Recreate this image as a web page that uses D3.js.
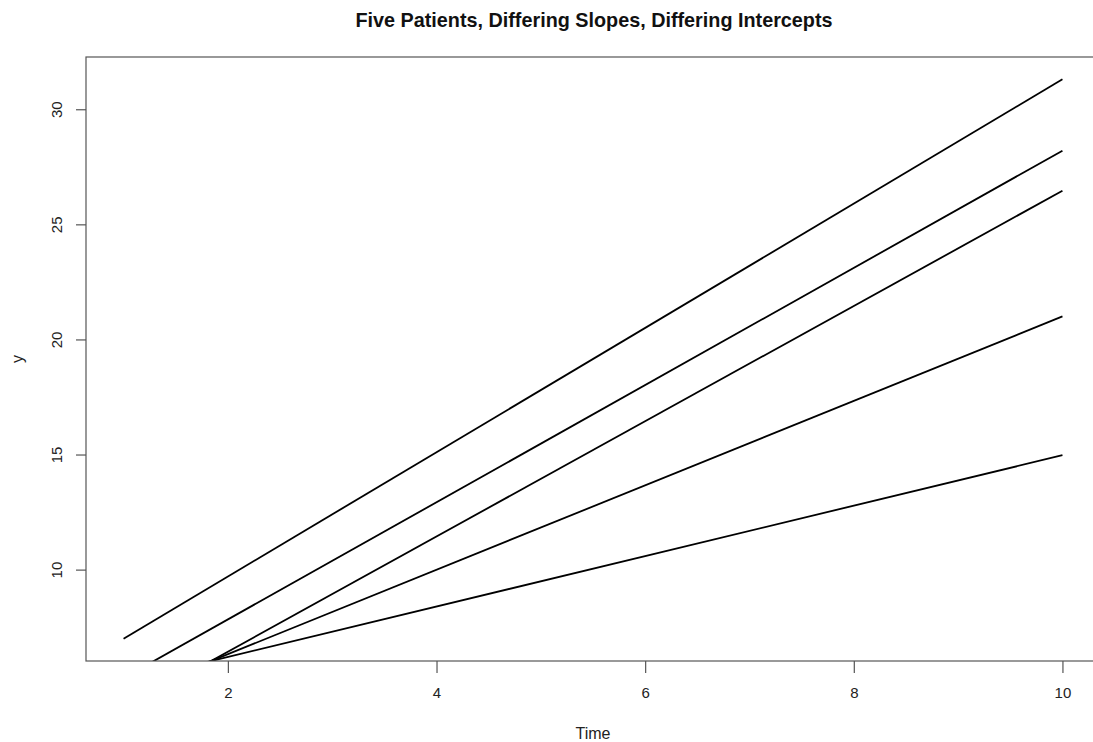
<!DOCTYPE html>
<html>
<head>
<meta charset="utf-8">
<script src="https://cdn.jsdelivr.net/npm/d3@7"></script>
<style>
  body { margin: 0; background: #fff; }
  svg { display: block; font-family: "Liberation Sans", Arial, sans-serif; }
</style>
</head>
<body>
<svg id="chart" width="1093" height="742"></svg>
<script>
// values: each patient's line at time 1 and time 10
var patients   = ["P1", "P2", "P3", "P4", "P5"];
var timePoints = [1, 10];
var yAtStart   = [7.0, 5.29, 3.93, 4.49, 5.11];
var yAtEnd     = [31.3, 28.2, 26.46, 21.0, 14.97];
var xTicks     = [2, 4, 6, 8, 10];
var yTicks     = [10, 15, 20, 25, 30];

var svg = d3.select("#chart"),
    width = +svg.attr("width"),
    height = +svg.attr("height");

// plot box (right side runs off the canvas like the original)
var boxLeft = 86, boxRight = 1100, boxTop = 57, boxBottom = 661;

var x = d3.scaleLinear().domain([0.64, 10.36]).range([boxLeft, boxRight]);
var y = d3.scaleLinear().domain([6.03, 32.27]).range([boxBottom, boxTop]);

svg.append("defs").append("clipPath").attr("id", "clip")
  .append("rect")
    .attr("x", boxLeft).attr("y", boxTop)
    .attr("width", boxRight - boxLeft).attr("height", boxBottom - boxTop);

var lineData = patients.map(function (p, i) {
  return [
    { t: timePoints[0], v: yAtStart[i] },
    { t: timePoints[1], v: yAtEnd[i] }
  ];
});

var line = d3.line()
  .x(function (d) { return x(d.t); })
  .y(function (d) { return y(d.v); });

svg.append("g")
  .attr("clip-path", "url(#clip)")
  .selectAll("path")
  .data(lineData)
  .enter().append("path")
    .attr("d", line)
    .attr("fill", "none")
    .attr("stroke", "#000")
    .attr("stroke-width", 1.8);

// box
svg.append("rect")
  .attr("x", boxLeft).attr("y", boxTop)
  .attr("width", boxRight - boxLeft).attr("height", boxBottom - boxTop)
  .attr("fill", "none")
  .attr("stroke", "#555")
  .attr("stroke-width", 1.2);

// axes
var xAxis = svg.append("g")
  .attr("transform", "translate(0," + boxBottom + ")")
  .call(d3.axisBottom(x).tickValues(xTicks).tickSize(12).tickPadding(14));

var yAxis = svg.append("g")
  .attr("transform", "translate(" + boxLeft + ",0)")
  .call(d3.axisLeft(y).tickValues(yTicks).tickSize(10).tickPadding(8));

[xAxis, yAxis].forEach(function (g) {
  g.select(".domain").remove();
  g.selectAll(".tick line").attr("stroke", "#555").attr("stroke-width", 1.2);
  g.selectAll(".tick text")
    .attr("fill", "#222")
    .style("font-size", "15px")
    .style("font-family", "Liberation Sans, Arial, sans-serif");
});

yAxis.selectAll(".tick text")
  .attr("x", null)
  .attr("text-anchor", "middle")
  .attr("transform", "translate(-29,0) rotate(-90)")
  .attr("dy", "0.35em");

// titles
svg.append("text")
  .attr("x", 594)
  .attr("y", 27)
  .attr("text-anchor", "middle")
  .style("font-weight", "bold")
  .style("font-size", "19.8px")
  .attr("fill", "#111")
  .text("Five Patients, Differing Slopes, Differing Intercepts");

svg.append("text")
  .attr("x", x(5.5))
  .attr("y", 739)
  .attr("text-anchor", "middle")
  .style("font-size", "16px")
  .attr("fill", "#222")
  .text("Time");

svg.append("text")
  .attr("transform", "translate(23," + ((boxTop + boxBottom) / 2) + ") rotate(-90)")
  .attr("text-anchor", "middle")
  .style("font-size", "16px")
  .attr("fill", "#222")
  .text("y");
</script>
</body>
</html>
